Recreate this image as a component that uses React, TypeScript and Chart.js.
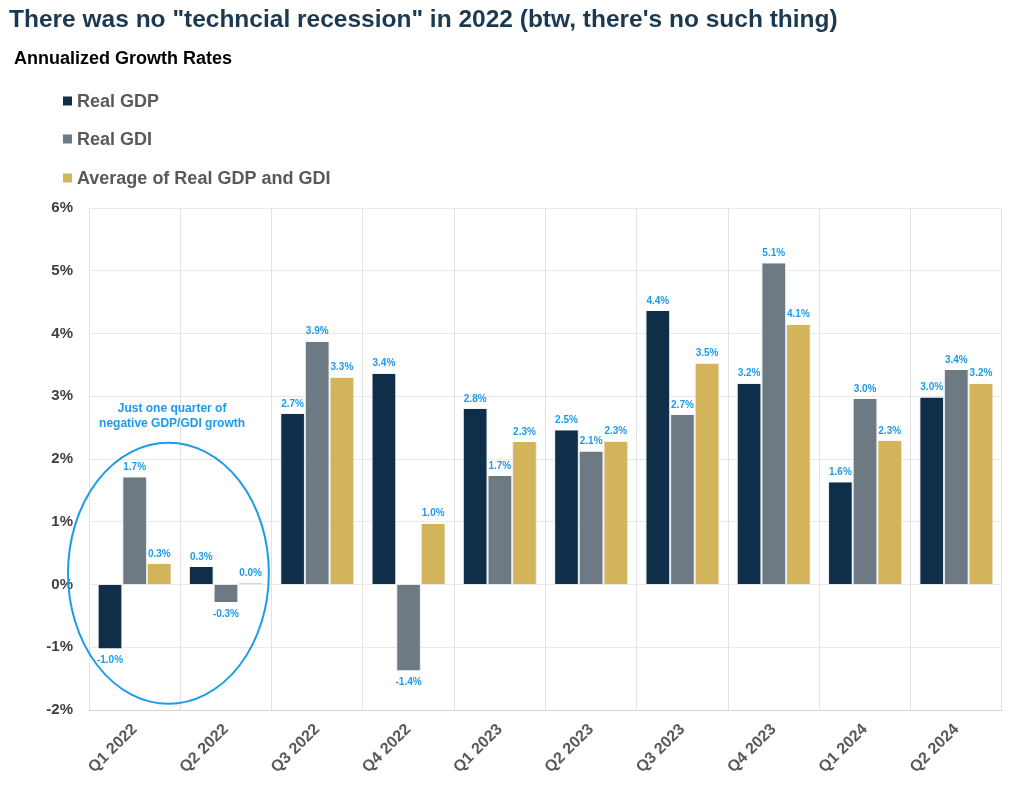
import React, { useEffect, useRef } from "react";
import { Chart, registerables } from "chart.js";

Chart.register(...registerables);

const titleText = 'There was no "techncial recession" in 2022 (btw, there\'s no such thing)';
const subtitleText = "Annualized Growth Rates";
const annotationLines = ["Just one quarter of", "negative GDP/GDI growth"];

const categories = [
  "Q1 2022", "Q2 2022", "Q3 2022", "Q4 2022", "Q1 2023",
  "Q2 2023", "Q3 2023", "Q4 2023", "Q1 2024", "Q2 2024",
];
const seriesNames = ["Real GDP", "Real GDI", "Average of Real GDP and GDI"];
const realGDP = [-1.02, 0.28, 2.72, 3.36, 2.8, 2.46, 4.36, 3.2, 1.63, 2.98];
const realGDI = [1.71, -0.28, 3.87, -1.37, 1.73, 2.12, 2.7, 5.12, 2.96, 3.42];
const avgGDPGDI = [0.33, 0.02, 3.3, 0.97, 2.27, 2.28, 3.52, 4.14, 2.29, 3.2];
const yTicks = [-2, -1, 0, 1, 2, 3, 4, 5, 6];

const colors = ["#0F2E4A", "#6E7A83", "#D4B45A"];
const labelBlue = "#1E9BE8";
const FONT = '"Liberation Sans", Arial, sans-serif';

const overlayPlugin = {
  id: "overlay",
  afterDatasetsDraw(chart: any) {
    const ctx = chart.ctx;
    ctx.save();
    ctx.font = `bold 10px ${FONT}`;
    ctx.fillStyle = labelBlue;
    ctx.textAlign = "center";
    ctx.textBaseline = "middle";
    chart.data.datasets.forEach((ds: any, di: number) => {
      const meta = chart.getDatasetMeta(di);
      meta.data.forEach((el: any, i: number) => {
        const v = ds.data[i];
        const txt = v.toFixed(1) + "%";
        const y = v >= 0 ? el.y - 10 : el.y + 12;
        ctx.fillText(txt, el.x, y);
      });
    });
    ctx.restore();
  },
  afterDraw(chart: any) {
    const ctx = chart.ctx;
    const xs = chart.scales.x;
    const ys = chart.scales.y;
    ctx.save();
    // title
    ctx.fillStyle = "#1B3A52";
    ctx.font = `bold 24.5px ${FONT}`;
    ctx.textAlign = "left";
    ctx.textBaseline = "alphabetic";
    ctx.fillText(titleText, 9, 27);
    // subtitle
    ctx.fillStyle = "#000000";
    ctx.font = `bold 18px ${FONT}`;
    ctx.fillText(subtitleText, 14, 64);
    // legend
    const rows = [101, 139, 178];
    ctx.font = `bold 18px ${FONT}`;
    seriesNames.forEach((name, i) => {
      ctx.fillStyle = colors[i];
      ctx.fillRect(63, rows[i] - 4.5, 9, 9);
      ctx.fillStyle = "#595959";
      ctx.textBaseline = "middle";
      ctx.fillText(name, 77, rows[i] + 1);
    });
    // ellipse annotation
    const step = xs.getPixelForValue(1) - xs.getPixelForValue(0);
    const unit = ys.getPixelForValue(0) - ys.getPixelForValue(1);
    const cx = xs.getPixelForValue(0) + 0.37 * step;
    const cy = ys.getPixelForValue(0.18);
    ctx.strokeStyle = labelBlue;
    ctx.lineWidth = 2;
    ctx.beginPath();
    ctx.ellipse(cx, cy, 1.1 * step, 2.08 * unit, 0, 0, Math.PI * 2);
    ctx.stroke();
    ctx.fillStyle = labelBlue;
    ctx.font = `bold 12px ${FONT}`;
    ctx.textAlign = "center";
    ctx.textBaseline = "middle";
    const tx = xs.getPixelForValue(0) + 0.41 * step;
    ctx.fillText(annotationLines[0], tx, ys.getPixelForValue(2.8));
    ctx.fillText(annotationLines[1], tx, ys.getPixelForValue(2.57));
    ctx.restore();
  },
};

export default function App() {
  const ref = useRef<HTMLCanvasElement | null>(null);
  useEffect(() => {
    if (!ref.current) return;
    const chart = new Chart(ref.current, {
      type: "bar",
      data: {
        labels: categories,
        datasets: [realGDP, realGDI, avgGDPGDI].map((d, i) => ({
          label: seriesNames[i],
          data: d,
          backgroundColor: colors[i],
          borderColor: "rgba(225,228,232,0.9)",
          borderWidth: { left: 1, right: 1, top: 0, bottom: 0 },
          borderSkipped: false,
          categoryPercentage: 0.81,
          barPercentage: 1.0,
        })),
      },
      options: {
        animation: false,
        responsive: true,
        maintainAspectRatio: false,
        layout: { padding: { top: 208, right: 30, left: 0, bottom: 0 } },
        plugins: {
          legend: { display: false },
          title: { display: false },
          tooltip: { enabled: false },
        },
        scales: {
          x: {
            grid: { color: "#E2E2E2", drawTicks: false, offset: true },
            border: { color: "#D6D6D6" },
            ticks: {
              minRotation: 45,
              maxRotation: 45,
              padding: 10,
              color: "#595959",
              font: { family: FONT, size: 16, weight: "bold" },
            },
            afterFit: (s: any) => {
              s.height = 89;
            },
          },
          y: {
            min: -2,
            max: 6,
            afterBuildTicks: (s: any) => {
              s.ticks = yTicks.map((v) => ({ value: v }));
            },
            grid: { color: "#E8E8E8", drawTicks: false },
            border: { display: false },
            ticks: {
              padding: 16,
              color: "#404040",
              font: { family: FONT, size: 15, weight: "bold" },
              callback: (v: any) => v + "%",
            },
            afterFit: (s: any) => {
              s.width = 89;
            },
          },
        },
      },
      plugins: [overlayPlugin],
    });
    return () => chart.destroy();
  }, []);
  return (
    <div style={{ position: "fixed", left: 0, top: 0, width: 1032, height: 799, background: "#fff" }}>
      <canvas ref={ref} />
    </div>
  );
}
